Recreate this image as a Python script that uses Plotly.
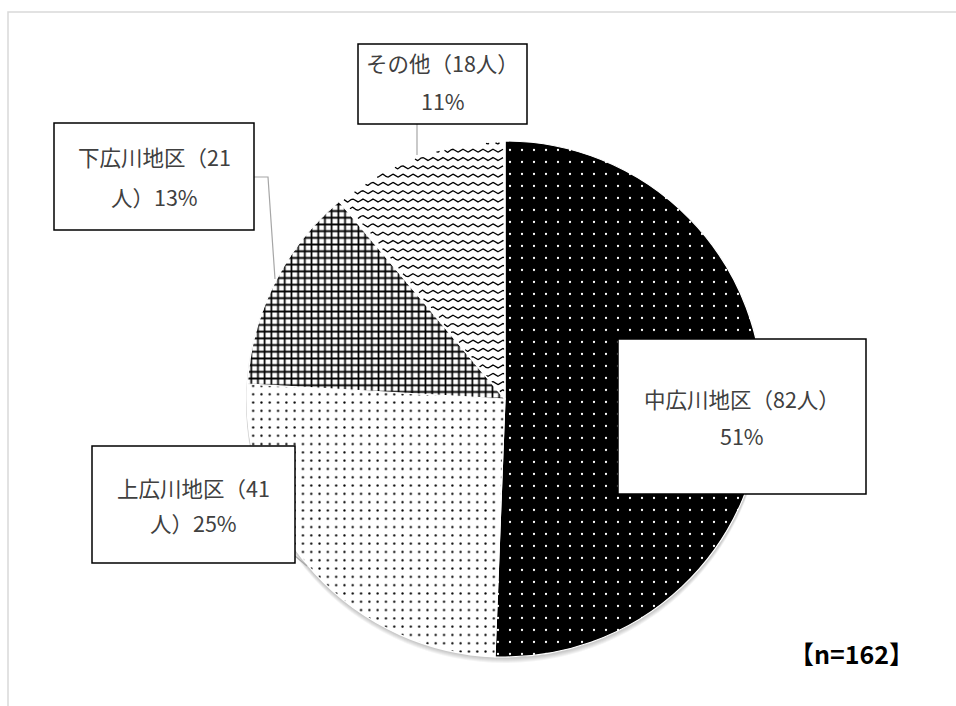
import numpy as np
import plotly.graph_objects as go

# ---- data ----
areas = ["中広川地区", "上広川地区", "下広川地区", "その他"]
counts = [82, 41, 21, 18]
line_split = [10, 8, 8, 8]  # characters on the first line of each label
n_total = sum(counts)

W, H = 956, 706
CX, CY_TOP, R = 505, 399, 258          # pie centre / radius in px
CY = H - CY_TOP                          # y-up data coordinates


def py(y_top):
    """convert a top-based pixel row into y-up data coordinates"""
    return H - y_top


pct = [round(c / n_total * 100) for c in counts]
full_labels = [f"{a}（{c}人）{p}%" for a, c, p in zip(areas, counts, pct)]

# ---- pie ----
dom_x = [(CX - R) / W, (CX + R) / W]
dom_y = [(CY - R) / H, (CY + R) / H]

pie = go.Pie(
    labels=areas,
    values=counts,
    sort=False,
    direction="clockwise",
    rotation=0,
    textinfo="none",
    hoverinfo="skip",
    showlegend=False,
    domain=dict(x=dom_x, y=dom_y),
    marker=dict(
        colors=["#000000", "#ffffff", "#ffffff", "rgba(255,255,255,0)"],
        line=dict(color="#ffffff", width=1.2),
        pattern=dict(
            shape=[".", ".", "+", ""],
            size=[12, 8.3, 6.7, 8],
            solidity=[0.028, 0.06, 0.45, 0.1],
            fgcolor=["#ffffff", "#000000", "#000000", "#000000"],
            bgcolor=["#000000", "#ffffff", "#ffffff", "rgba(255,255,255,0)"],
            fillmode="replace",
        ),
    ),
)

# ---- wavy hatching for the last slice, clipped to its wedge ----
cum = np.cumsum([0] + counts) / n_total * 360.0
a0, a1 = cum[3], cum[4]
wx, wy = [], []
xs = np.arange(CX - R, CX + R, 0.5)
for row in np.arange(CY - R, CY + R, 8.3):
    ys = row + 1.5 * np.sin(2 * np.pi * xs / 10.0)
    dx, dy = xs - CX, ys - CY
    rr = np.hypot(dx, dy)
    ang = np.degrees(np.arctan2(dx, dy)) % 360
    inside = (rr <= R - 1.5) & (ang >= a0 + 0.8) & (ang <= a1 - 0.4)
    if not inside.any():
        continue
    for x, y, ok in zip(xs, ys, inside):
        if ok:
            wx.append(float(x)); wy.append(float(y))
        elif wx and wx[-1] is not None:
            wx.append(None); wy.append(None)
    wx.append(None); wy.append(None)

waves = go.Scatter(
    x=wx, y=wy, mode="lines",
    line=dict(color="#000000", width=1.3),
    hoverinfo="skip", showlegend=False,
)

fig = go.Figure([waves, pie])

shapes = []
# soft drop shadow under the pie
for k in range(1, 6):
    shapes.append(dict(
        type="circle", xref="x", yref="y", layer="below",
        x0=CX - R - 1, x1=CX + R + 1, y0=CY - R - k - 1, y1=CY + R - k + 1,
        fillcolor="rgba(0,0,0,0.045)", line=dict(width=0),
    ))
shapes.append(dict(
    type="circle", xref="x", yref="y", layer="below",
    x0=CX - R, x1=CX + R, y0=CY - R, y1=CY + R,
    fillcolor="#ffffff", line=dict(width=0),
))

# chart-area frame
shapes.append(dict(
    type="rect", xref="x", yref="y", layer="below",
    x0=8, x1=W + 10, y0=py(H + 10), y1=py(12),
    line=dict(color="#d9d9d9", width=1.5), fillcolor="rgba(0,0,0,0)",
))

# label boxes (left, top, right, bottom in px) and text rows
boxes = [
    (618, 339, 866, 494),
    (92, 446, 295, 563),
    (54, 123, 254, 230),
    (358, 44, 527, 124),
]
text_rows = [(398, 435), (487, 522), (156, 196), (62, 100)]
leaders = [
    None,
    [(295, 556), (307, 566)],
    [(254, 177), (268, 177), (275, 279)],
    [(417, 124), (417, 155)],
]

for pts in leaders:
    if pts is None:
        continue
    path = "M " + " L ".join(f"{x},{py(y)}" for x, y in pts)
    shapes.append(dict(type="path", xref="x", yref="y", layer="above",
                       path=path, line=dict(color="#a6a6a6", width=1.2)))

annotations = []
for (l, t, r, b), rows, lab, sp in zip(boxes, text_rows, full_labels, line_split):
    shapes.append(dict(
        type="rect", xref="x", yref="y", layer="above",
        x0=l, x1=r, y0=py(b), y1=py(t),
        line=dict(color="#000000", width=1.5), fillcolor="#ffffff",
    ))
    for txt, yrow in zip((lab[:sp], lab[sp:]), rows):
        annotations.append(dict(
            x=(l + r) / 2, y=py(yrow), xref="x", yref="y",
            text=txt, showarrow=False, xanchor="center", yanchor="middle",
            font=dict(family="Noto Sans CJK JP", size=21.5, color="#404040"),
        ))

annotations.append(dict(
    x=851, y=py(653), xref="x", yref="y",
    text=f"<b>【n={n_total}】</b>", showarrow=False,
    xanchor="center", yanchor="middle",
    font=dict(family="Noto Sans CJK JP", size=25, color="#000000"),
))

fig.update_layout(
    width=W, height=H,
    margin=dict(l=0, r=0, t=0, b=0),
    paper_bgcolor="#ffffff", plot_bgcolor="rgba(0,0,0,0)",
    xaxis=dict(range=[0, W], visible=False, fixedrange=True, domain=[0, 1]),
    yaxis=dict(range=[0, H], visible=False, fixedrange=True, domain=[0, 1]),
    shapes=shapes,
    annotations=annotations,
    showlegend=False,
)

fig.write_html("out.html")
